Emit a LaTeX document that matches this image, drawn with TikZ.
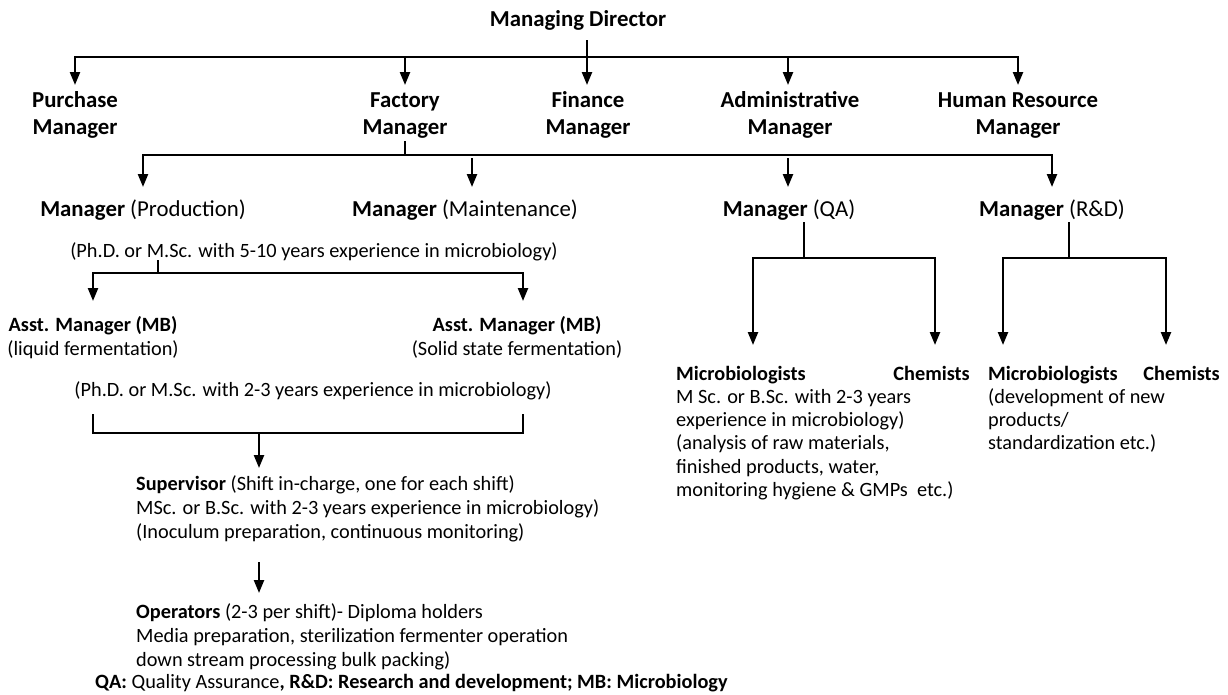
\documentclass[tikz,border=0pt]{standalone}
\usepackage{fontspec}
\setmainfont{Carlito}
\usetikzlibrary{arrows.meta}
\newcommand\stackL[1]{\begin{tabular}[t]{@{}l@{}}#1\end{tabular}}
\newcommand\stackC[1]{\begin{tabular}[t]{@{}c@{}}#1\end{tabular}}
\begin{document}
\begin{tikzpicture}[x=1pt,y=-1pt,
  every node/.style={inner sep=0pt},
  ln/.style={line width=2.3pt, line cap=rect},
  arr/.style={line width=2.3pt, -{Triangle[width=10pt,length=13pt]}},
  hd/.style={font=\fontsize{22.8}{27}\selectfont\bfseries, anchor=base},
  mg/.style={font=\fontsize{22.8}{27}\selectfont, anchor=base},
  tx/.style={font=\fontsize{20.3}{24.5}\selectfont, anchor=base},
  blk/.style={font=\fontsize{20.3}{24}\selectfont, anchor=base west},
  qblk/.style={font=\fontsize{20.3}{23.3}\selectfont, anchor=base west}]
\useasboundingbox[fill=white] (0,0) rectangle (1228,694);

% top level
\node[hd] (md) at (578,26) {Managing Director};
\node[hd] (pur) at (75,107) {\stackC{Purchase\\Manager}};
\node[hd] (fac) at (405,107) {\stackC{Factory\\Manager}};
\node[hd] (fin) at (588,107) {\stackC{Finance\\Manager}};
\node[hd] (adm) at (790,107) {\stackC{Administrative\\Manager}};
\node[hd] (hr)  at (1018,107) {\stackC{Human Resource\\Manager}};

\coordinate (mdout) at (587,40);
\coordinate (bar1) at (587,57);
\coordinate (purin) at (75,85);
\coordinate (facin) at (405,85);
\coordinate (finin) at (587,85);
\coordinate (admin) at (788,85);
\coordinate (hrin) at (1018,85);
\draw[arr] (mdout) -- (finin);
\draw[arr] (bar1) -| (purin);
\draw[arr] (bar1) -| (hrin);
\draw[arr] (bar1 -| facin) -- (facin);
\draw[arr] (bar1 -| admin) -- (admin);

% departments under the factory manager
\node[mg] (mprod) at (143,216) {\textbf{Manager} (Production)};
\node[mg] (mmain) at (465,216) {\textbf{Manager} (Maintenance)};
\node[mg] (mqa)   at (789,216) {\textbf{Manager} (QA)};
\node[mg] (mrd)   at (1052,216) {\textbf{Manager} (R\&D)};

\coordinate (bar2) at (405,155);
\coordinate (prodin) at (143,187);
\coordinate (mainout) at (472,158);
\coordinate (mainin) at (472,187);
\coordinate (qaout) at (788,158);
\coordinate (qain) at (788,187);
\coordinate (rdin) at (1052,187);
\draw[ln] (fac.south) -- (bar2);
\draw[arr] (bar2) -| (prodin);
\draw[arr] (bar2) -| (rdin);
\draw[arr] (mainout) -- (mainin);
\draw[arr] (qaout) -- (qain);

% production branch
\node[tx] (q1) at (314,257) {(Ph.D. or M.Sc. with 5-10 years experience in microbiology)};
\coordinate (bar3) at (158,273);
\coordinate (as1in) at (93,301);
\coordinate (as2in) at (523,301);
\draw[ln] (q1.south -| bar3) -- (bar3);
\draw[arr] (bar3) -| (as1in);
\draw[arr] (bar3) -| (as2in);

\node[tx] (as1) at (93,331) {\stackC{\textbf{Asst. Manager (MB)}\\(liquid fermentation)}};
\node[tx] (as2) at (517,331) {\stackC{\textbf{Asst. Manager (MB)}\\(Solid state fermentation)}};

\node[tx] (q2) at (313,396) {(Ph.D. or M.Sc. with 2-3 years experience in microbiology)};
\coordinate (brL) at (93,415);
\coordinate (brR) at (523,415);
\coordinate (brj) at (259,433);
\draw[ln] (brL) |- (brj) -| (brR);
\coordinate (supin) at (259,468);
\draw[arr] (brj) -- (supin);

\node[blk] (sup) at (136,490) {\stackL{\textbf{Supervisor} (Shift in-charge, one for each shift)\\
  MSc. or B.Sc. with 2-3 years experience in microbiology)\\
  (Inoculum preparation, continuous monitoring)}};
\coordinate (supout) at (259,562);
\coordinate (opin) at (259,593);
\draw[arr] (supout) -- (opin);
\node[blk] (op) at (136,618) {\stackL{\textbf{Operators} (2-3 per shift)- Diploma holders\\
  Media preparation, sterilization fermenter operation\\
  down stream processing bulk packing)}};

% quality assurance branch
\coordinate (qaj) at (804,258);
\coordinate (qamin) at (753,345);
\coordinate (qacin) at (935,345);
\draw[ln] ([yshift=-3pt]mqa.south -| qaj) -- (qaj);
\draw[arr] (qaj) -| (qamin);
\draw[arr] (qaj) -| (qacin);
\node[qblk] (qamic) at (676,380) {\stackL{\textbf{Microbiologists}\\
  M Sc. or B.Sc. with 2-3 years\\
  experience in microbiology)\\
  (analysis of raw materials,\\
  finished products, water,\\
  monitoring hygiene \& GMPs\ \ etc.)}};
\node[tx, anchor=base east] (qachem) at (970,380) {\textbf{Chemists}};

% research and development branch
\coordinate (rdj) at (1069,258);
\coordinate (rdmin) at (1003,345);
\coordinate (rdcin) at (1166,345);
\draw[ln] ([yshift=-3pt]mrd.south -| rdj) -- (rdj);
\draw[arr] (rdj) -| (rdmin);
\draw[arr] (rdj) -| (rdcin);
\node[qblk] (rdmic) at (988,380) {\stackL{\textbf{Microbiologists}\\
  (development of new\\
  products/\\
  standardization etc.)}};
\node[tx, anchor=base east] (rdchem) at (1220,380) {\textbf{Chemists}};

% abbreviations
\node[tx, anchor=base west] (key) at (95,688) {\textbf{QA:} Quality Assurance\textbf{, R\&D: Research and development; MB: Microbiology}};
\end{tikzpicture}
\end{document}
